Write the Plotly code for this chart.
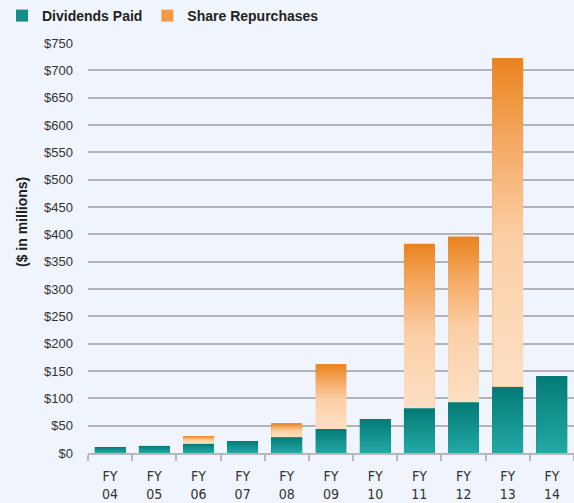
import plotly.graph_objects as go

categories = ["FY<br>04", "FY<br>05", "FY<br>06", "FY<br>07", "FY<br>08", "FY<br>09",
              "FY<br>10", "FY<br>11", "FY<br>12", "FY<br>13", "FY<br>14"]
dividends = [11, 13, 17, 22, 29, 44, 62, 82, 93, 121, 141]
repurchases = [0, 0, 14, 0, 25, 118, 0, 301, 303, 601, 0]
y_ticks = list(range(0, 751, 50))
y_tick_labels = ["$" + str(v) for v in y_ticks]

BAR_W = 0.7
BG = "#F0F5FD"
div_scale = [[0, "#23A9A6"], [1, "#047A76"]]
rep_scale = [[0, "#FCDFC4"], [0.45, "#FBCFA6"], [0.75, "#F4A862"],
             [0.85, "#F09A45"], [1, "#EA8220"]]

xs = list(range(len(categories)))
fig = go.Figure()

fig.add_trace(go.Bar(x=xs, y=dividends, width=BAR_W, name="Dividends Paid",
                     marker=dict(color="#128F8B", line=dict(width=0))))
fig.add_trace(go.Bar(x=xs, y=repurchases, width=BAR_W, name="Share Repurchases",
                     marker=dict(color="#F29A45", line=dict(width=0))))


def grad_rect(i, base, top, scale):
    x0, x1 = i - BAR_W / 2, i + BAR_W / 2
    return go.Scatter(
        x=[x0, x1, x1, x0, x0], y=[base, base, top, top, base],
        mode="lines", line=dict(width=0), fill="toself",
        fillgradient=dict(type="vertical", colorscale=scale, start=base, stop=top),
        showlegend=False, hoverinfo="skip")


for i, (d, r) in enumerate(zip(dividends, repurchases)):
    fig.add_trace(grad_rect(i, 0, d, div_scale))
    if r > 0:
        fig.add_trace(grad_rect(i, d, d + r, rep_scale))

fig.update_layout(
    barmode="stack",
    width=574, height=503,
    margin=dict(l=88, r=0, t=43, b=50, autoexpand=False),
    paper_bgcolor=BG, plot_bgcolor=BG,
    showlegend=True,
    legend=dict(orientation="h", xref="container", yref="container",
                x=2 / 574, y=1.0, xanchor="left", yanchor="top",
                font=dict(family="Liberation Sans, Arial, sans-serif", size=14,
                          color="#222", weight="bold"),
                bgcolor="rgba(0,0,0,0)", traceorder="normal"),
    font=dict(family="Liberation Sans, Arial, sans-serif", color="#333"),
)

fig.update_xaxes(
    range=[-0.5, 10.5], tickvals=xs, ticktext=categories, ticks="",
    tickfont=dict(family="Liberation Sans Narrow, DejaVu Sans Condensed, Arial Narrow, Liberation Sans, sans-serif",
                  size=14, color="#333"),
    ticklabelstandoff=9,
    showgrid=False, zeroline=False,
    showline=True, linecolor="#B8B8BC", linewidth=1.5,
    minor=dict(tickvals=[x - 0.5 for x in range(len(categories) + 1)],
               ticks="outside", ticklen=6, tickwidth=1.5, tickcolor="#B8B8BC", showgrid=False),
)
fig.update_yaxes(
    range=[0, 750], tickvals=y_ticks, ticktext=y_tick_labels, ticks="",
    tickfont=dict(family="Liberation Sans, Arial, sans-serif", size=13, color="#333"),
    ticklabelstandoff=14,
    showgrid=True, gridcolor="#B2B4BA", gridwidth=1.5, zeroline=False, showline=False,
)

fig.add_annotation(
    text="<b>($ in millions)</b>", textangle=-90, xref="paper", yref="paper",
    x=(22 - 88) / 486, y=(453 - 222) / 410, xanchor="center", yanchor="middle",
    showarrow=False, font=dict(family="Liberation Sans, Arial, sans-serif", size=14, color="#222"))

fig.write_html("out.html", config={"displayModeBar": False},
               post_script="document.body.style.margin='0';")
